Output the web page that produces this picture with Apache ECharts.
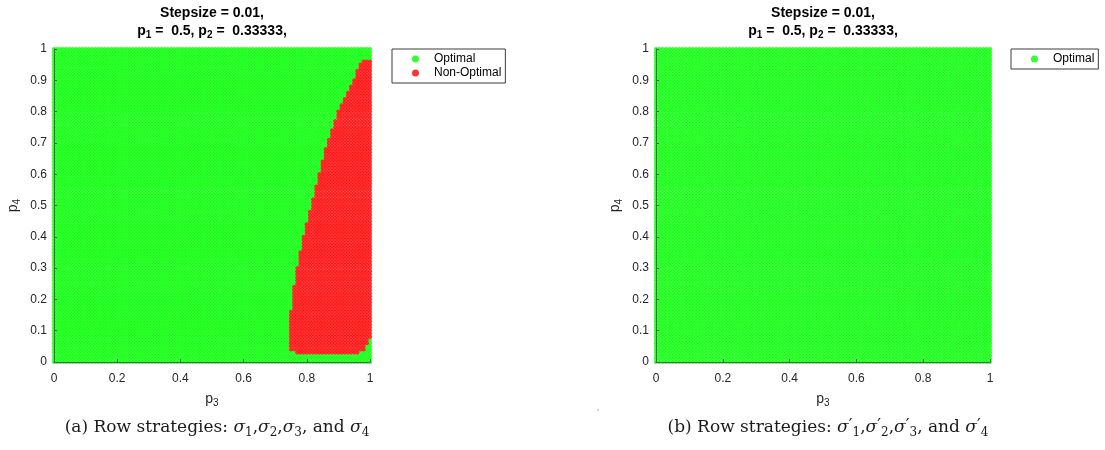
<!DOCTYPE html>
<html>
<head>
<meta charset="utf-8">
<script src="https://cdn.jsdelivr.net/npm/echarts@6/dist/echarts.min.js"></script>
<style>
html, body { margin: 0; padding: 0; background: #fff; }
#chart { width: 1105px; height: 450px; }
</style>
</head>
<body>
<div id="chart"></div>
<script>
// sampling grid of the simulation (Stepsize = 0.01)
const stepSize = 0.01
const gridSteps = 100

// red (non-optimal) area of panel (a):
// rows p4 in [redP4From, redP4To] are red for p3 in [redP3From, redP3To]
const redP4From = [0.03, 0.04, 0.06, 0.08, 0.17, 0.25, 0.31, 0.36, 0.41, 0.45, 0.49, 0.53, 0.57, 0.61, 0.65, 0.69, 0.72, 0.75, 0.78, 0.81, 0.83, 0.85, 0.87, 0.89, 0.91, 0.94, 0.96]
const redP4To   = [0.03, 0.05, 0.07, 0.16, 0.24, 0.30, 0.35, 0.40, 0.44, 0.48, 0.52, 0.56, 0.60, 0.64, 0.68, 0.71, 0.74, 0.77, 0.80, 0.82, 0.84, 0.86, 0.88, 0.90, 0.93, 0.95, 0.96]
const redP3From = [0.77, 0.75, 0.75, 0.75, 0.76, 0.77, 0.78, 0.79, 0.80, 0.81, 0.82, 0.83, 0.84, 0.85, 0.86, 0.87, 0.88, 0.89, 0.90, 0.91, 0.92, 0.93, 0.94, 0.95, 0.96, 0.97, 0.98]
const redP3To   = [0.96, 0.98, 0.99, 1.00, 1.00, 1.00, 1.00, 1.00, 1.00, 1.00, 1.00, 1.00, 1.00, 1.00, 1.00, 1.00, 1.00, 1.00, 1.00, 1.00, 1.00, 1.00, 1.00, 1.00, 1.00, 1.00, 1.00]

const legendNames = ['Optimal', 'Non-Optimal']
const titleLine1 = 'Stepsize = 0.01,'
const p1Value = '0.5'
const p2Value = '0.33333'

{
    let idx = v => Math.round(v / stepSize)
    let isRed = (i, j) => {
        for (let k = 0; k < redP4From.length; k++) {
            if (j >= idx(redP4From[k]) && j <= idx(redP4To[k]) &&
                i >= idx(redP3From[k]) && i <= idx(redP3To[k])) return true
        }
        return false
    }

    let greenA = [], redA = [], greenB = []
    for (let j = 0; j <= gridSteps; j++) {
        for (let i = 0; i <= gridSteps; i++) {
            let pt = [+(i * stepSize).toFixed(2), +(j * stepSize).toFixed(2)]
            greenB.push(pt)
            if (isRed(i, j)) redA.push(pt)
            else greenA.push(pt)
        }
    }

    const font = 'Liberation Sans, Arial, sans-serif'
    const ink = '#262626'
    const nameRich = {
        p: { fontSize: 14, fontFamily: font, color: ink, lineHeight: 16 },
        s: { fontSize: 10, fontFamily: font, color: ink, padding: [8, 0, 0, 0], lineHeight: 16 }
    }

    let makeX = (g) => ({
        type: 'value', gridIndex: g, min: 0, max: 1, interval: 0.2, z: 10,
        name: '{p|p}{s|3}', nameLocation: 'middle', nameGap: 27,
        nameTextStyle: { rich: nameRich },
        axisLine: { show: true, lineStyle: { color: '#5a5a5a', width: 1 } },
        axisTick: { show: true, inside: true, length: 3, lineStyle: { color: '#5a5a5a' } },
        splitLine: { show: false },
        axisLabel: { color: ink, fontSize: 12, fontFamily: font, margin: 11 }
    })
    let makeY = (g) => ({
        type: 'value', gridIndex: g, min: 0, max: 1, interval: 0.1, z: 10,
        name: '{p|p}{s|4}', nameLocation: 'middle', nameGap: 33, nameRotate: 90,
        nameTextStyle: { rich: nameRich },
        axisLine: { show: true, lineStyle: { color: '#5a5a5a', width: 1 } },
        axisTick: { show: true, inside: true, length: 3, lineStyle: { color: '#5a5a5a' } },
        splitLine: { show: false },
        axisLabel: { color: ink, fontSize: 12, fontFamily: font, margin: 7 }
    })
    let dots = (name, data, color, g) => ({
        name: name, type: 'scatter', xAxisIndex: g, yAxisIndex: g,
        data: data, symbol: 'circle', symbolSize: 4.2,
        itemStyle: { color: color },
        progressive: 0, animation: false, silent: true
    })
    let legendBox = (left, names) => ({
        orient: 'vertical', left: left, top: 49, data: names,
        icon: 'circle', itemWidth: 7, itemHeight: 7, itemGap: 2,
        padding: [4, 4, 4, 20], borderColor: '#3c3c3c', borderWidth: 1,
        backgroundColor: '#fff',
        textStyle: { fontSize: 12, fontFamily: font, color: '#000', lineHeight: 12, padding: [0, 0, 0, 10] }
    })

    const titleFont = 'bold 14px ' + font
    const titleRich = {
        b: { font: titleFont, fill: '#000', lineHeight: 18 },
        s: { font: 'bold 10px ' + font, fill: '#000', lineHeight: 18, padding: [8, 0, 0, 0] }
    }
    let titleLines = (cx) => [
        {
            type: 'text', x: cx, y: 13,
            style: { text: titleLine1, font: titleFont, fill: '#000', align: 'center', verticalAlign: 'middle' }
        },
        {
            type: 'text', x: cx, y: 31,
            style: {
                text: '{b|p}{s|1}{b| =  ' + p1Value + ', p}{s|2}{b| =  ' + p2Value + ',}',
                rich: titleRich, align: 'center', verticalAlign: 'middle'
            }
        }
    ]

    const serif = 'DejaVu Serif, serif'
    const capRich = {
        t: { font: '17px ' + serif, fill: '#1a1a1a', lineHeight: 24 },
        i: { font: 'italic 17px ' + serif, fill: '#1a1a1a', lineHeight: 24 },
        sb: { font: '12px ' + serif, fill: '#1a1a1a', lineHeight: 24, padding: [9, 0, 0, 0] },
        sp: { font: '17px ' + serif, fill: '#1a1a1a', lineHeight: 24, padding: [0, 0, 4, 0] }
    }
    let capA = '{t|(a) Row strategies: }' + [1, 2, 3, 4].map((n, k) =>
        (k === 3 ? '{t|, and }' : k > 0 ? '{t|,}' : '') + '{i|σ}{sb|' + n + '}').join('')
    let capB = '{t|(b) Row strategies: }' + [1, 2, 3, 4].map((n, k) =>
        (k === 3 ? '{t|, and }' : k > 0 ? '{t|,}' : '') + '{i|σ}{sp|′}{sb|' + n + '}').join('')

    let option = {
        animation: false,
        backgroundColor: '#fff',
        grid: [
            { left: 54, top: 49, width: 316, height: 313 },
            { left: 656, top: 49, width: 334, height: 313 }
        ],
        xAxis: [makeX(0), makeX(1)],
        yAxis: [makeY(0), makeY(1)],
        legend: [legendBox(392, legendNames), legendBox(1011, [legendNames[0]])],
        series: [
            dots(legendNames[0], greenA, '#00ff00', 0),
            dots(legendNames[1], redA, '#ff0000', 0),
            dots(legendNames[0], greenB, '#00ff00', 1)
        ],
        graphic: [
            ...titleLines(212),
            ...titleLines(823),
            { type: 'text', x: 217, y: 428, style: { text: capA, rich: capRich, align: 'center', verticalAlign: 'middle' } },
            { type: 'text', x: 828, y: 428, style: { text: capB, rich: capRich, align: 'center', verticalAlign: 'middle' } },
            { type: 'circle', shape: { cx: 598, cy: 410, r: 0.8 }, style: { fill: '#999' } }
        ]
    }

    let myChart = echarts.init(document.getElementById('chart'))
    myChart.setOption(option)
}
</script>
</body>
</html>
